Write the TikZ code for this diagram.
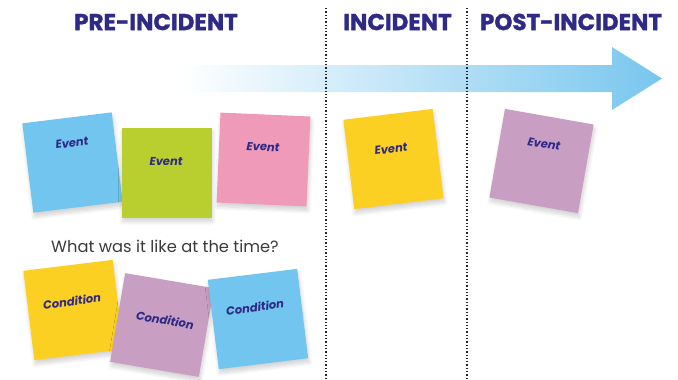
\documentclass[tikz,border=0pt]{standalone}
\usepackage{fontspec}
\setmainfont{Poppins}
\newfontfamily\headfont{Poppins}[BoldFeatures={FakeBold=1.3}]
\usetikzlibrary{shadows.blur}
\definecolor{navy}{HTML}{2E2A85}
\definecolor{txtgray}{HTML}{3A3A3A}
\definecolor{arrowblue}{HTML}{78C6EE}
\definecolor{nblue}{HTML}{72C5EE}
\definecolor{ngreen}{HTML}{B9CE2F}
\definecolor{npink}{HTML}{EF9AB8}
\definecolor{nyellow}{HTML}{FCD022}
\definecolor{npurple}{HTML}{C99EC3}
\tikzset{
  header/.style={text=navy, font=\fontsize{23}{23}\headfont\bfseries, inner sep=0pt},
  note/.style={minimum width=90pt, minimum height=90pt, inner sep=0pt,
    blur shadow={shadow xshift=1pt, shadow yshift=-4pt, shadow blur radius=4pt, shadow blur steps=8, shadow opacity=18}},
  lab/.style={text=navy, font=\fontsize{11.5}{11.5}\selectfont\bfseries\itshape, inner sep=0pt},
  divider/.style={line width=1.3pt, dotted, black!85},
}
\begin{document}
\begin{tikzpicture}[x=1pt, y=-1pt]
\useasboundingbox (0,0) rectangle (678,380);
% arrow
\shade[left color=white, right color=arrowblue, shading angle=90]
  (180,65) -- (612,65) -- (612,47) -- (662,78.5) -- (612,110) -- (612,92) -- (180,92) -- cycle;
% dividers
\coordinate (d1t) at (326,8); \coordinate (d1b) at (326,380);
\coordinate (d2t) at (467,8); \coordinate (d2b) at (467,380);
\draw[divider] (d1t) -- (d1b);
\draw[divider] (d2t) -- (d2b);
% headers
\node[header] (h1) at (156,22) {PRE-INCIDENT};
\node[header] (h2) at (397.5,22) {INCIDENT};
\node[header] (h3) at (571,22) {POST-INCIDENT};
% event notes
\node[note, fill=nblue, rotate=7] (e1) at (72.5,162.5) {};
\node[lab, rotate=7] (e1t) at (72,143) {Event};
\node[note, fill=ngreen] (e2) at (166.5,172.5) {};
\node[lab] (e2t) at (166,162) {Event};
\node[note, fill=npink, rotate=-2.5] (e3) at (263.5,159.5) {};
\node[lab, rotate=-2.5] (e3t) at (263,147) {Event};
\node[note, fill=nyellow, rotate=7] (e4) at (393.5,159) {};
\node[lab, rotate=7] (e4t) at (391,149) {Event};
\node[note, fill=npurple, rotate=-10] (e5) at (541.5,161) {};
\node[lab, rotate=-10] (e5t) at (544,144) {Event};
% question
\node[text=txtgray, font=\fontsize{16.3}{16.3}\selectfont, inner sep=0pt] (q) at (165,246) {What was it like at the time?};
% condition notes
\node[note, fill=nyellow, rotate=7] (c1) at (73.5,310) {};
\node[lab, rotate=7] (c1t) at (72,301) {Condition};
\node[note, fill=npurple, rotate=-9.6] (c2) at (162,325) {};
\node[lab, rotate=-9.6] (c2t) at (165,320) {Condition};
\node[note, fill=nblue, rotate=7] (c3) at (258,319) {};
\node[lab, rotate=7] (c3t) at (255,307) {Condition};
\end{tikzpicture}
\end{document}
